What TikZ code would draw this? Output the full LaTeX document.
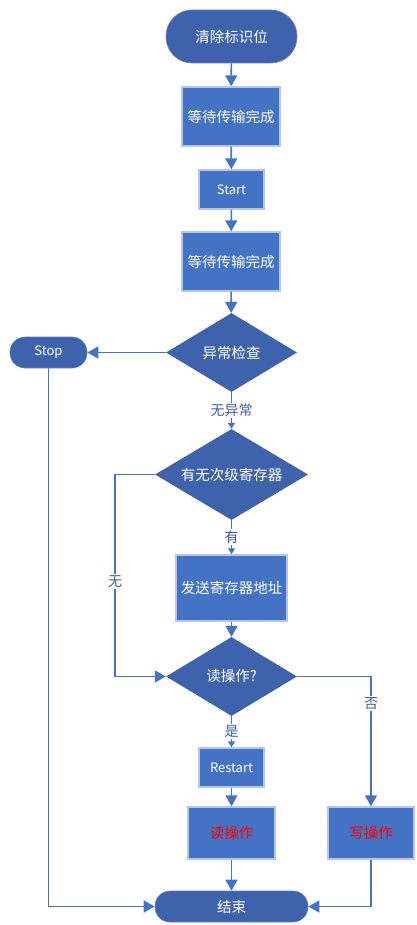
\documentclass[tikz,border=0pt]{standalone}
\usepackage{fontspec}
\setmainfont{Noto Sans CJK SC}
\usetikzlibrary{shapes.geometric,arrows.meta,calc}
\definecolor{dkblue}{HTML}{3F62AC}
\definecolor{mdblue}{HTML}{4472C4}
\definecolor{bdr}{HTML}{B4C7E7}
\definecolor{lnblue}{HTML}{4472C4}
\definecolor{lbl}{HTML}{3F5FA0}
\tikzset{
  term/.style={fill=dkblue,draw=dkblue!80,line width=0.6pt,text=white,inner sep=0pt,font=\fontsize{14.5}{16}\selectfont},
  procbox/.style={fill=mdblue,draw=bdr,line width=1.4pt,text=white,inner sep=0pt,font=\fontsize{14.5}{16}\selectfont},
  decide/.style={diamond,fill=dkblue,draw=none,text=white,inner sep=0pt,aspect=1.66,font=\fontsize{14.5}{16}\selectfont},
  conn/.style={draw=lnblue,line width=1.6pt,-{Triangle[length=11pt,width=12pt]}},
  connsm/.style={draw=lnblue,line width=1.6pt,-{Triangle[length=6pt,width=7pt]}},
  plain/.style={draw=lnblue,line width=1.6pt},
  lab/.style={fill=white,text=lbl,inner sep=1.5pt,font=\fontsize{14}{15}\selectfont}
}
\begin{document}
\begin{tikzpicture}[x=1pt,y=-1pt]
\useasboundingbox (0,0) rectangle (417,925);
% nodes
\node[term,minimum width=131pt,minimum height=53pt,rounded corners=26pt] (clr) at (231.5,36.5) {清除标识位};
\node[procbox,minimum width=98pt,minimum height=59pt] (w1) at (231,116.5) {等待传输完成};
\node[procbox,minimum width=65pt,minimum height=39pt,font=\fontsize{13}{14}\selectfont] (start) at (231.5,189.5) {Start};
\node[procbox,minimum width=98pt,minimum height=59pt] (w2) at (231,261.5) {等待传输完成};
\node[decide,minimum width=131pt,minimum height=79pt] (chk) at (231.5,352.5) {异常检查};
\node[term,minimum width=77pt,minimum height=31pt,rounded corners=15pt,font=\fontsize{13}{14}\selectfont] (stop) at (48.5,352.5) {Stop};
\node[decide,minimum width=153pt,minimum height=91pt] (sub) at (231.5,474.5) {有无次级寄存器};
\node[procbox,minimum width=111pt,minimum height=66pt] (send) at (231.5,588) {发送寄存器地址};
\node[decide,minimum width=131pt,minimum height=79pt] (rd) at (231.5,676.5) {读操作?};
\node[procbox,minimum width=65pt,minimum height=39pt,font=\fontsize{13}{14}\selectfont] (rs) at (231.5,767.5) {Restart};
\node[procbox,minimum width=87pt,minimum height=52pt,text=red] (rop) at (231.5,833) {读操作};
\node[procbox,minimum width=86pt,minimum height=52pt,text=red] (wop) at (371,833) {写操作};
\node[term,minimum width=153pt,minimum height=31pt,rounded corners=15pt] (end) at (231.5,906.5) {结束};
% connectors
\draw[conn] (clr) -- (w1);
\draw[conn] (w1) -- (start);
\draw[conn] (start) -- (w2);
\draw[conn] (w2) -- (chk);
\draw[conn] (chk.west) -- (stop.east);
\draw[connsm] (chk.south) -- node[lab,pos=0.5] {无异常} (sub.north);
\draw[connsm] (sub.south) -- node[lab,pos=0.5] {有} (send.north);
\draw[conn] (send) -- (rd);
\coordinate (lt) at (115,474.5);
\coordinate (lb) at (115,676.5);
\draw[conn] (sub.west) -- (lt) -- node[lab,pos=0.53] {无} (lb) -- (rd.west);
\draw[connsm] (rd.south) -- node[lab,pos=0.5] {是} (rs.north);
\draw[conn] (rs) -- (rop);
\coordinate (rt) at (371,676.5);
\draw[conn] (rd.east) -- (rt) -- node[lab,pos=0.21] {否} (wop.north);
\draw[conn] (rop) -- (end);
\coordinate (sb) at (48.5,906.5);
\draw[conn] (stop.south) -- (sb) -- (end.west);
\coordinate (wb) at (371,906.5);
\draw[conn] (wop.south) -- (wb) -- (end.east);
\end{tikzpicture}
\end{document}
